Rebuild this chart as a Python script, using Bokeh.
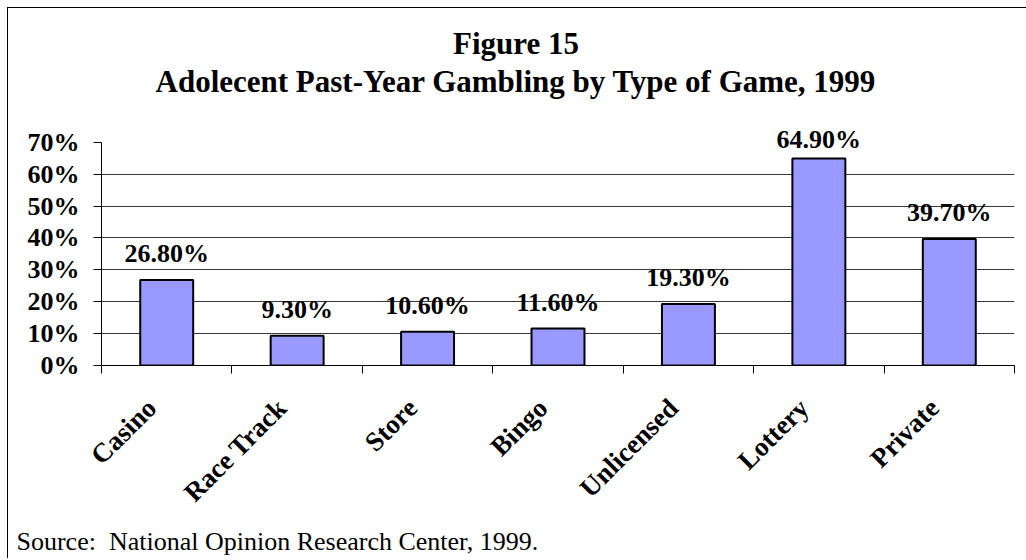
import math
import numpy as np
from bokeh.plotting import figure
from bokeh.models import (Range1d, LinearAxis, FixedTicker, ColumnDataSource, LabelSet,
                          Label, Grid, PrintfTickFormatter, Title)
from bokeh.embed import file_html
from bokeh.resources import INLINE

# ---- data ----
categories = ["Casino", "Race Track", "Store", "Bingo", "Unlicensed", "Lottery", "Private"]
percent = [26.8, 9.3, 10.6, 11.6, 19.3, 64.9, 39.7]
value_labels = ["26.80%", "9.30%", "10.60%", "11.60%", "19.30%", "64.90%", "39.70%"]
y_ticks = [0, 10, 20, 30, 40, 50, 60, 70]
grid_ticks = [10, 20, 30, 40, 50, 60]
title_line1 = "Figure 15"
title_line2 = "Adolecent Past-Year Gambling by Type of Game, 1999"
source_note = "Source:\u00a0 National Opinion Research Center, 1999."

SERIF = "Liberation Serif"
n = len(categories)
centers = [i + 0.5 for i in range(n)]
label_shift = -0.115          # small leftward nudge of the slanted category names
label_ticks = [c + label_shift for c in centers]

p = figure(width=1026, height=558,
           x_range=Range1d(0, n), y_range=Range1d(0, 114.46),
           x_axis_type=None, y_axis_type=None,
           output_backend="svg", toolbar_location=None,
           min_border_left=101, min_border_right=12, min_border_top=0, min_border_bottom=186)
p.outline_line_color = None
p.background_fill_color = None
p.border_fill_color = None
p.styles = {"box-shadow": "inset 7px 7px 0 0 white, inset 8px 8px 0 0 black",
            "background-color": "white"}

# gridlines
p.add_layout(Grid(dimension=1, ticker=FixedTicker(ticks=grid_ticks),
                  grid_line_color="#3a3a3a", grid_line_width=1))

# bars
src = ColumnDataSource(dict(x=centers, val=percent, lab=value_labels,
                            laby=list(np.minimum(np.array(percent) + 5.6, 68.3))))
p.vbar(x="x", top="val", width=0.406, source=src,
       fill_color="#9999FF", line_color="black", line_width=2)

# value labels
p.add_layout(LabelSet(x="x", y="laby", text="lab", source=src,
                      text_align="center", text_baseline="alphabetic",
                      text_font=SERIF, text_font_style="bold", text_font_size="26px",
                      text_color="black"))

# y axis
yaxis = LinearAxis(ticker=FixedTicker(ticks=y_ticks), bounds=(0, 70),
                   formatter=PrintfTickFormatter(format="%d%%"),
                   major_tick_in=0, major_tick_out=8, minor_tick_line_color=None,
                   major_label_standoff=14,
                   major_label_text_font=SERIF, major_label_text_font_style="bold",
                   major_label_text_font_size="26px", major_label_text_color="black",
                   axis_line_color="black", major_tick_line_color="black")
p.add_layout(yaxis, "left")

# boundary ticks on x
tick_axis = LinearAxis(ticker=FixedTicker(ticks=list(range(n + 1))),
                       major_tick_in=0, major_tick_out=8, minor_tick_line_color=None,
                       major_label_text_font_size="0px", major_label_text_color=None,
                       major_label_standoff=0,
                       axis_line_color="black", major_tick_line_color="black")
p.add_layout(tick_axis, "below")

# category labels
cat_axis = LinearAxis(ticker=FixedTicker(ticks=label_ticks),
                      major_label_overrides={t: name for t, name in zip(label_ticks, categories)},
                      major_label_orientation=math.pi / 4,
                      major_tick_line_color=None, axis_line_color=None,
                      minor_tick_line_color=None,
                      major_tick_in=0, major_tick_out=0,
                      major_label_standoff=30,
                      major_label_text_font=SERIF, major_label_text_font_style="bold",
                      major_label_text_font_size="27px", major_label_text_color="black")
p.add_layout(cat_axis, "below")

# source note
p.add_layout(Title(text=source_note, align="left", offset=-85, standoff=6,
                   text_font=SERIF, text_font_style="normal", text_font_size="26px",
                   text_color="black"), "below")

# titles
p.add_layout(Label(x=3.178, y=101.0, text=title_line1, text_color="black",
                   text_align="center", text_baseline="alphabetic",
                   text_font=SERIF, text_font_style="bold", text_font_size="31px"))
p.add_layout(Label(x=3.178, y=89.0, text=title_line2, text_color="black",
                   text_align="center", text_baseline="alphabetic",
                   text_font=SERIF, text_font_style="bold", text_font_size="31px"))

open("out.html", "w").write(file_html(p, INLINE))
